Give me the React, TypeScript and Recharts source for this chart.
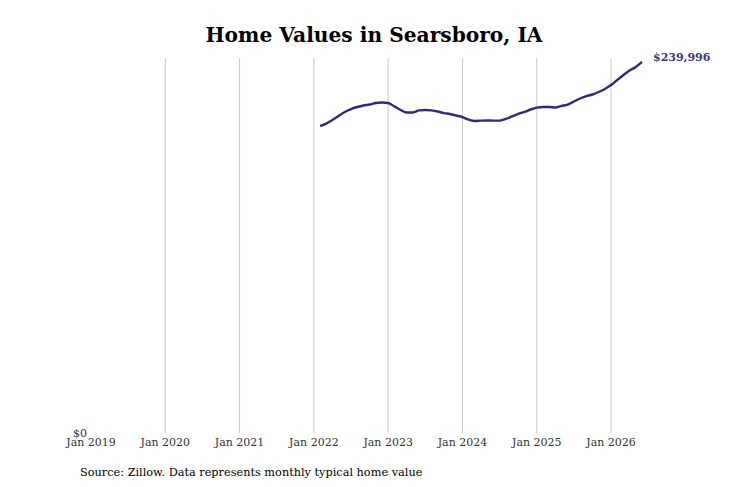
import React from "react";
import { LineChart, Line, XAxis, YAxis, ReferenceLine, LabelList } from "recharts";

const months: string[] = [
  "2022-02","2022-03","2022-04","2022-05","2022-06","2022-07","2022-08","2022-09","2022-10","2022-11","2022-12",
  "2023-01","2023-02","2023-03","2023-04","2023-05","2023-06","2023-07","2023-08","2023-09","2023-10","2023-11","2023-12",
  "2024-01","2024-02","2024-03","2024-04","2024-05","2024-06","2024-07","2024-08","2024-09","2024-10","2024-11","2024-12",
  "2025-01","2025-02","2025-03","2025-04","2025-05","2025-06","2025-07","2025-08","2025-09","2025-10","2025-11","2025-12",
  "2026-01","2026-02","2026-03","2026-04","2026-05","2026-06",
];

const values: number[] = [
  198500, 200100, 202400, 205000, 207600, 209500, 210800, 211800, 212400, 213400, 213700,
  213400, 211200, 208900, 207300, 207300, 208600, 208900, 208600, 207900, 206900, 206300, 205300,
  204300, 202700, 201800, 202000, 202100, 202000, 202000, 203100, 204700, 206300, 207600, 209200,
  210400, 210800, 210800, 210500, 211500, 212400, 214400, 216300, 217900, 218900, 220500, 222500,
  225000, 228300, 231500, 234400, 236700, 239996,
];

const tickYears: number[] = [2019, 2020, 2021, 2022, 2023, 2024, 2025, 2026];
const gridYears: number[] = [2020, 2021, 2022, 2023, 2024, 2025, 2026];
const yTicks: number[] = [0];

const BASE_YEAR = 2019;
const monthIndex = (s: string) => {
  const [y, m] = s.split("-").map(Number);
  return (y - BASE_YEAR) * 12 + (m - 1);
};

const data = months.map((m, i) => ({ t: monthIndex(m), value: values[i] }));
const lastIdx = data.length - 1;

const LINE_COLOR = "#2e2886";
const FONT = "'DejaVu Serif', serif";

const fmtMoney = (v: number) => "$" + v.toLocaleString("en-US");

const EndLabel = (props: any) => {
  const { x, y, index, value } = props;
  if (index !== lastIdx) return null;
  return (
    <text x={x + 11} y={y - 1} fill="#3b3488" fontFamily={FONT} fontSize={11} fontWeight="bold">
      {fmtMoney(value)}
    </text>
  );
};

export default function App() {
  return (
    <div style={{ position: "absolute", left: 0, top: 0, width: 731, height: 487, background: "#fff" }}>
      <div
        style={{
          position: "absolute",
          left: 0,
          width: 731,
          top: 22,
          textAlign: "center",
          fontFamily: FONT,
          fontWeight: "bold",
          fontSize: 20.2,
          lineHeight: "26px",
          color: "#000",
          paddingLeft: 17,
          boxSizing: "border-box",
        }}
      >
        Home Values in Searsboro, IA
      </div>
      <LineChart
        width={731}
        height={487}
        data={data}
        margin={{ top: 58, right: 89, bottom: 24, left: 51 }}
      >
        <XAxis
          dataKey="t"
          type="number"
          domain={[0, 89]}
          ticks={tickYears.map((y) => (y - BASE_YEAR) * 12)}
          tickFormatter={(v: number) => "Jan " + (BASE_YEAR + v / 12)}
          axisLine={false}
          tickLine={false}
          tickSize={0}
          tickMargin={5}
          height={30}
          interval={0}
          tick={{ fill: "#333", fontSize: 11, fontFamily: FONT }}
        />
        <YAxis
          type="number"
          domain={[0, 242500]}
          ticks={yTicks}
          tickFormatter={fmtMoney}
          axisLine={false}
          tickLine={false}
          tickSize={0}
          tickMargin={4}
          width={40}
          tick={{ fill: "#333", fontSize: 11, fontFamily: FONT }}
        />
        {gridYears.map((y) => (
          <ReferenceLine key={y} x={(y - BASE_YEAR) * 12} stroke="#c8c8c8" strokeWidth={1} />
        ))}
        <Line
          type="monotone"
          dataKey="value"
          stroke={LINE_COLOR}
          strokeWidth={2.4}
          dot={false}
          isAnimationActive={false}
        >
          <LabelList dataKey="value" content={EndLabel} />
        </Line>
      </LineChart>
      <div
        style={{
          position: "absolute",
          left: 80,
          top: 465,
          fontFamily: FONT,
          fontSize: 11.3,
          lineHeight: "16px",
          color: "#000",
        }}
      >
        Source: Zillow. Data represents monthly typical home value
      </div>
    </div>
  );
}
